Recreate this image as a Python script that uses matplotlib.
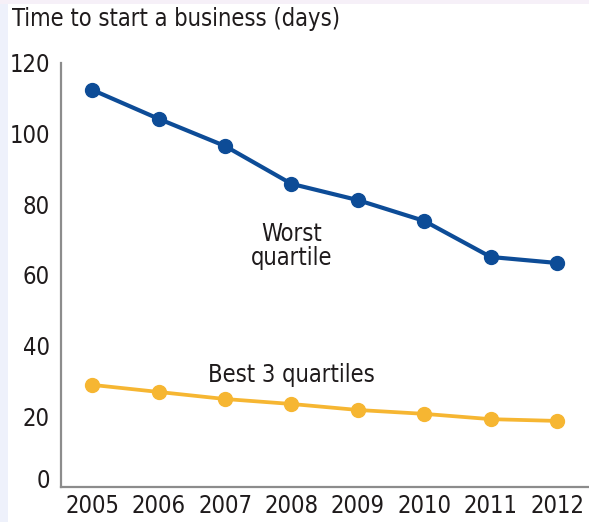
import matplotlib
matplotlib.use("Agg")
import matplotlib.pyplot as plt
import matplotlib.transforms as mtransforms
from matplotlib.patches import Rectangle

years = [2005, 2006, 2007, 2008, 2009, 2010, 2011, 2012]
worst_quartile = [112.4, 104.2, 96.5, 85.8, 81.2, 75.3, 65.1, 63.4]
best_3_quartiles = [28.9, 26.9, 24.9, 23.5, 21.8, 20.7, 19.2, 18.7]
y_ticks = [0, 20, 40, 60, 80, 100, 120]

BLUE = "#0d4c97"
GOLD = "#f6b632"
TEXT = "#1f1b1c"

plt.rcParams["font.family"] = ["DejaVu Sans"]
plt.rcParams["font.stretch"] = "condensed"

W, H = 589, 522
fig = plt.figure(figsize=(W / 100, H / 100), dpi=100)
fig.patch.set_facecolor("white")

# faint tinted border strips
fig.add_artist(Rectangle((0, 0), 8 / W, 1, transform=fig.transFigure,
                         facecolor="#eef1fb", edgecolor="none", zorder=0))
fig.add_artist(Rectangle((0, 1 - 4 / H), 1, 4 / H, transform=fig.transFigure,
                         facecolor="#f6f0f8", edgecolor="none", zorder=0))

ax = fig.add_axes([61 / W, 35 / H, 528 / W, 424 / H])
ax.set_facecolor("white")

ax.plot(years, worst_quartile, color=BLUE, lw=3.0, marker="o", ms=10,
        solid_capstyle="round", zorder=3)
ax.plot(years, best_3_quartiles, color=GOLD, lw=2.7, marker="o", ms=10,
        solid_capstyle="round", zorder=3)

ax.set_xlim(2004.53, 2012.48)
ax.set_ylim(0, 120)
ax.set_xticks(years)
ax.set_xticklabels([str(y) for y in years])
ax.set_yticks(y_ticks)
ax.set_yticklabels([str(v) for v in y_ticks])
ax.tick_params(axis="both", length=0, labelsize=17, labelcolor=TEXT)
ax.tick_params(axis="y", pad=8)
ax.tick_params(axis="x", pad=5)

# lift the zero label clear of the baseline
zero_lbl = ax.get_yticklabels()[0]
zero_lbl.set_transform(zero_lbl.get_transform() +
                       mtransforms.ScaledTranslation(0, 6 / 72, fig.dpi_scale_trans))

for side in ("top", "right"):
    ax.spines[side].set_visible(False)
for side in ("left", "bottom"):
    ax.spines[side].set_color("#8c8c8c")
    ax.spines[side].set_linewidth(1.6)

ax.text(2008.0, 68.2, "Worst\nquartile", ha="center", va="center",
        fontsize=17, color=TEXT, linespacing=1.0)
ax.text(2008.0, 31.7, "Best 3 quartiles", ha="center", va="center",
        fontsize=17, color=TEXT)

fig.text(12 / W, 1 - 19 / H, "Time to start a business (days)", ha="left",
         va="center", fontsize=17, color=TEXT)

fig.savefig("out.png", dpi=100)
